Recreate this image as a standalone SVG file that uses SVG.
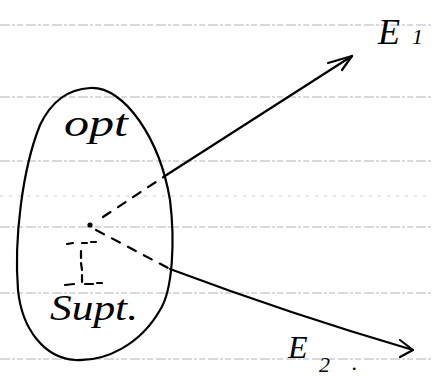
<svg xmlns="http://www.w3.org/2000/svg" width="432" height="380" viewBox="0 0 432 380">
  <style>
    .rule { stroke: #b4b4b4; stroke-width: 1; stroke-dasharray: 10 2 3 2 6 3; fill: none; }
    .rule.faint { stroke: #cfcfcf; stroke-dasharray: 3 6; }
    .ink { stroke: #000; stroke-width: 2.2; fill: none; stroke-linecap: round; stroke-linejoin: round; }
    .dash { stroke-dasharray: 9 9; }
    .hand { font-family: "Liberation Serif", "DejaVu Serif", serif; font-style: italic; fill: #000; }
  </style>
  <rect width="432" height="380" fill="#fff"/>

  <!-- ruled paper lines -->
  <g id="paper">
    <line class="rule" x1="0" y1="25" x2="432" y2="25"/>
    <line class="rule" x1="0" y1="97" x2="432" y2="97"/>
    <line class="rule" x1="0" y1="161" x2="432" y2="161"/>
    <line class="rule faint" x1="0" y1="196" x2="432" y2="196"/>
    <line class="rule" x1="0" y1="227" x2="432" y2="227"/>
    <line class="rule" x1="0" y1="293" x2="432" y2="293"/>
    <line class="rule" x1="0" y1="359" x2="432" y2="359"/>
  </g>

  <!-- the egg-shaped set holding opt. and supt. -->
  <g id="set">
    <path class="ink" d="M 90 88 C 125 86, 160 140, 170 200 C 175 240, 173 290, 160 310 C 140 345, 105 362, 75 360 C 45 358, 22 330, 18 290 C 14 240, 22 170, 40 125 C 52 100, 70 89, 90 88 Z"/>
    <text class="hand" x="64" y="136" font-size="38" textLength="64" lengthAdjust="spacingAndGlyphs">opt</text>
    <text class="hand" x="50" y="320" font-size="36" textLength="88" lengthAdjust="spacingAndGlyphs">Supt.</text>
    <!-- point and dashed interval -->
    <circle cx="90" cy="225" r="2.6" fill="#000"/>
    <path class="ink" stroke-width="1.8" d="M 67 244 L 73 243 M 82 243 L 87 243 M 91 242 L 96 242 M 81 251 L 81 258 M 81 263 L 82 270 M 82 275 L 82 282 M 65 285 L 74 284 M 85 284 L 93 284 M 97 283 L 102 283"/>
  </g>

  <!-- connectors from the point to E1 and E2 -->
  <g id="connectors">
    <path class="ink dash" d="M 103 217 L 168 174"/>
    <path class="ink" d="M 168 174 L 352 56"/>
    <path class="ink" d="M 328 63 L 352 56 L 342 70"/>
    <path class="ink dash" d="M 96 230 L 170 269"/>
    <path class="ink" d="M 170 269 Q 290 314 413 350"/>
    <path class="ink" d="M 400 340 L 413 350 L 400 357"/>
  </g>

  <g id="E1">
    <text class="hand" x="378" y="44" font-size="36">E</text>
    <text class="hand" x="412" y="44" font-size="22">1</text>
  </g>
  <g id="E2">
    <text class="hand" x="288" y="358" font-size="32">E</text>
    <text class="hand" x="319" y="372" font-size="22">2</text>
    <text class="hand" x="352" y="370" font-size="22">.</text>
  </g>
</svg>
